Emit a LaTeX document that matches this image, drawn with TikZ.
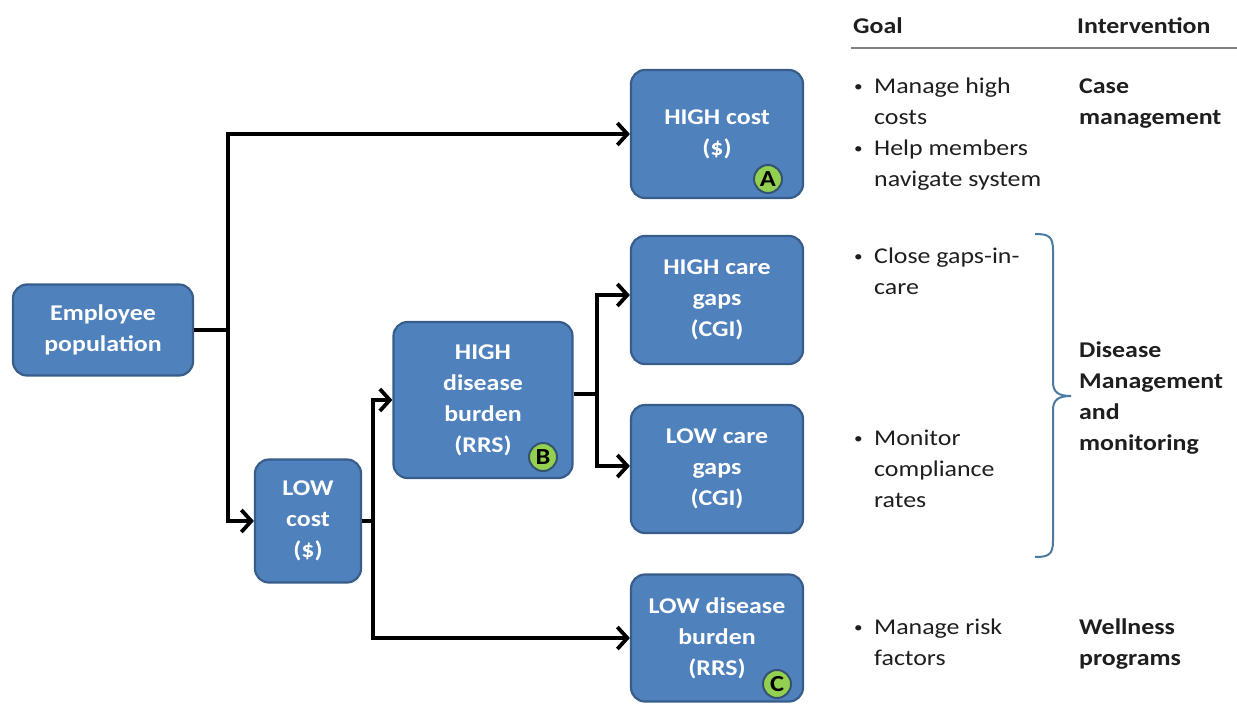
\documentclass[tikz,border=0pt]{standalone}
\usepackage{fontspec}
\setmainfont[FakeStretch=1.15]{Carlito}
\usetikzlibrary{arrows.meta}
\definecolor{boxfill}{HTML}{4F81BD}
\definecolor{boxline}{HTML}{385D8A}
\definecolor{badgefill}{HTML}{92D050}
\definecolor{badgeline}{HTML}{35526E}
\definecolor{bracecol}{HTML}{4A7AA0}
\definecolor{txt}{HTML}{1E1E1E}
\tikzset{
  box/.style={draw=boxline, fill=boxfill, line width=2.2pt, rounded corners=14pt,
    text=white, align=center, inner sep=0pt,
    font={\fontsize{22.5}{31}\selectfont\bfseries}},
  badge/.style={circle, draw=badgeline, fill=badgefill, line width=2pt, minimum size=28pt,
    inner sep=0pt, font={\fontsize{23}{23}\selectfont\bfseries}, text=black},
  conn/.style={line width=3.8pt, black, -{Straight Barb[length=10pt,width=22pt,line width=3.8pt]}},
  plain/.style={line width=3.8pt, black},
  gtext/.style={anchor=base west, align=left, inner sep=0pt, text=txt,
    font={\fontsize{22.5}{31}\selectfont}},
  itext/.style={gtext, font={\fontsize{22.5}{31}\selectfont\bfseries}},
  bul/.style={anchor=base west, inner sep=0pt, text=txt, font={\fontsize{15}{20}\selectfont}}
}
\begin{document}
\begin{tikzpicture}[x=1pt,y=-1pt]
\useasboundingbox (0,0) rectangle (1237,704);
% boxes
\node[box, minimum width=180pt, minimum height=91pt] (emp) at (103,330) {Employee\\population};
\node[box, minimum width=172pt, minimum height=128pt] (hc) at (717,134) {HIGH cost\\(\$)};
\node[box, minimum width=106pt, minimum height=123pt] (lc) at (308,521) {LOW\\cost\\(\$)};
\node[box, minimum width=179pt, minimum height=156pt] (hdb) at (483,400) {HIGH\\disease\\burden\\(RRS)};
\node[box, minimum width=172pt, minimum height=128pt] (hcg) at (717,300) {HIGH care\\gaps\\(CGI)};
\node[box, minimum width=172pt, minimum height=128pt] (lcg) at (717,469) {LOW care\\gaps\\(CGI)};
\node[box, minimum width=172pt, minimum height=127pt] (ldb) at (717,638) {LOW disease\\burden\\(RRS)};
% badges
\node[badge] (ba) at (768,179) {A};
\node[badge] (bb) at (543,457) {B};
\node[badge] (bc) at (777,684) {C};
% connectors
\coordinate (j1) at (228,330);
\coordinate (j2) at (373,521);
\coordinate (j3) at (597,394);
\draw[plain] (emp.east) -- (j1);
\draw[conn] (j1) |- (hc.west);
\draw[conn] (j1) |- (lc.west);
\draw[plain] (lc.east) -- (j2);
\draw[conn] (j2) |- (hdb.west);
\draw[conn] (j2) |- (ldb.west);
\draw[plain] (hdb.east |- j3) -- (j3);
\draw[conn] (j3) |- ([yshift=5pt]hcg.west);
\draw[conn] (j3) |- ([yshift=3pt]lcg.west);
% header
\node[itext] (hgoal) at (853,33) {Goal};
\node[itext] (hint) at (1077,33) {Intervention};
\coordinate (hl1) at (851,48);
\coordinate (hl2) at (1237,48);
\draw[line width=2pt, gray] (hl1) -- (hl2);
% goals (anchor = baseline of last line)
\node[bul] (b1) at (854,91) {•};
\node[gtext] (g1) at (874,124) {Manage high\\costs};
\node[bul] (b2) at (854,153) {•};
\node[gtext] (g2) at (874,186) {Help members\\navigate system};
\node[bul] (b3) at (854,261) {•};
\node[gtext] (g3) at (874,294) {Close gaps-in-\\care};
\node[bul] (b4) at (854,443) {•};
\node[gtext] (g4) at (874,507) {Monitor\\compliance\\rates};
\node[bul] (b5) at (854,632) {•};
\node[gtext] (g5) at (874,665) {Manage risk\\factors};
% interventions
\node[itext] (i1) at (1079,124) {Case\\management};
\node[itext] (i2) at (1079,450) {Disease\\Management\\and\\monitoring};
\node[itext] (i3) at (1079,665) {Wellness\\programs};
% brace
\coordinate (bt) at (1035,234);
\coordinate (bm) at (1071,396);
\coordinate (bb2) at (1035,557);
\draw[bracecol, line width=2pt] (bt) .. controls (1048,234) and (1053,236) .. (1053,250)
  -- (1053,382) .. controls (1053,392) and (1058,396) .. (bm)
  .. controls (1058,396) and (1053,400) .. (1053,410)
  -- (1053,541) .. controls (1053,555) and (1048,557) .. (bb2);
\end{tikzpicture}
\end{document}
